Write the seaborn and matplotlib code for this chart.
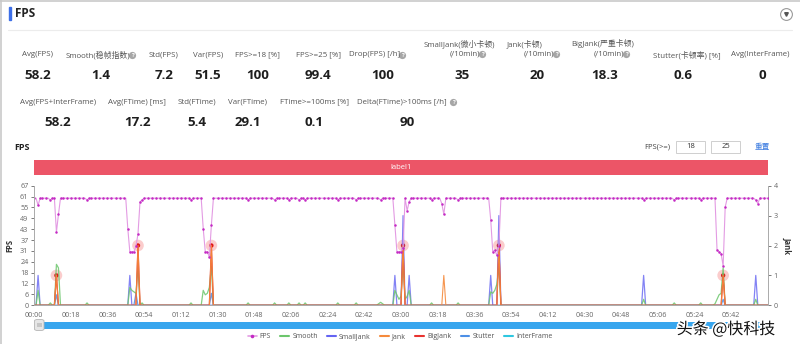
import matplotlib
matplotlib.use("Agg")
import matplotlib.pyplot as plt
import seaborn as sns
import pandas as pd
from matplotlib.lines import Line2D
from matplotlib.patches import Rectangle, FancyBboxPatch
import matplotlib.patheffects as pe

# ------------------------------------------------------------------ data
seconds = list(range(0, 361))

fps = [
    60, 60, 56, 60, 60, 60, 60, 60, 59, 60, 60, 41, 51, 60, 60, 60, 60, 60, 60, 60,
    60, 60, 60, 60, 60, 60, 59, 60, 60, 60, 60, 60, 60, 60, 60, 60, 60, 60, 60, 60,
    60, 60, 60, 60, 60, 60, 43, 30, 30, 30, 33, 40, 58, 59, 60, 60, 60, 60, 60, 60,
    60, 60, 60, 60, 60, 60, 60, 60, 60, 60, 60, 60, 60, 60, 60, 60, 60, 59, 60, 60,
    60, 60, 60, 43, 30, 30, 27, 45, 60, 60, 60, 60, 60, 60, 60, 60, 60, 60, 60, 60,
    60, 60, 60, 60, 60, 59, 60, 60, 60, 60, 60, 60, 60, 60, 60, 60, 60, 60, 59, 60,
    60, 60, 60, 60, 60, 59, 60, 60, 60, 60, 59, 60, 60, 59, 60, 60, 60, 60, 60, 60,
    60, 60, 60, 60, 60, 60, 60, 60, 60, 59, 60, 60, 60, 60, 60, 60, 60, 60, 59, 60,
    60, 60, 60, 60, 60, 60, 60, 60, 60, 60, 59, 60, 60, 60, 60, 60, 60, 45, 30, 30,
    30, 32, 60, 53, 58, 60, 60, 60, 60, 60, 60, 60, 60, 60, 60, 59, 60, 60, 60, 60,
    57, 51, 60, 60, 60, 60, 60, 60, 59, 60, 60, 60, 60, 60, 60, 60, 60, 60, 60, 60,
    60, 60, 60, 60, 48, 30, 31, 28, 33, 60, 60, 60, 60, 60, 60, 60, 60, 60, 60, 60,
    60, 60, 60, 60, 60, 60, 60, 60, 60, 60, 60, 60, 60, 60, 60, 60, 60, 60, 60, 60,
    60, 60, 60, 60, 60, 60, 60, 60, 60, 60, 60, 60, 60, 60, 60, 60, 60, 60, 60, 60,
    60, 60, 60, 60, 60, 60, 60, 60, 60, 60, 60, 60, 60, 60, 60, 60, 60, 60, 60, 59,
    60, 60, 60, 60, 60, 60, 60, 60, 60, 60, 60, 60, 60, 60, 59, 60, 60, 60, 60, 60,
    60, 60, 60, 60, 60, 60, 60, 59, 60, 60, 60, 60, 60, 60, 60, 31, 30, 29, 22, 55,
    60, 60, 60, 60, 60, 60, 60, 60, 60, 60, 60, 60, 60, 60, 59, 57, 60, 60, 60, 60,
    60,
]

# non-zero samples of the right-axis series (all other seconds are 0)
smooth_t = [2, 8, 11, 12, 26, 47, 48, 49, 50, 51, 53, 77, 83, 84, 85, 86, 87,
            105, 118, 125, 130, 133, 149, 158, 169, 170, 171,
            177, 178, 179, 180, 181, 182, 183, 184, 195, 208,
            224, 225, 226, 227, 228, 299, 314, 327, 334, 335, 336, 337, 338, 354]
smooth_v = [0.5, 0.08, 1.37, 1.25, 0.08, 0.6, 0.5, 0.45, 0.4, 1.3, 0.08, 0.08, 0.5, 0.35, 0.4, 0.6, 1.3,
            0.08, 0.08, 0.08, 0.08, 0.08, 0.08, 0.08, 0.05, 0.1, 0.05,
            0.5, 0.35, 0.2, 0.3, 1.4, 0.2, 0.3, 0.5, 0.08, 0.08,
            0.45, 0.4, 0.5, 0.7, 1.3, 0.2, 0.08, 0.08, 0.05, 0.2, 0.35, 0.4, 1.25, 0.2]
smalljank_t = [2, 47, 177, 181, 184, 224, 228, 299, 354]
smalljank_v = [1, 1, 1, 3, 1, 1, 3, 1, 1]
jank_t = [11, 51, 87, 181, 201, 228, 338]
jank_v = [1, 2, 2, 2, 1, 2, 1]
bigjank_t = [11, 51, 87, 181, 228, 338]
bigjank_v = [1, 2, 2, 2, 2, 1]
stutter_t = [11, 50, 87, 338]
stutter_v = [0.35, 0.4, 0.4, 0.2]
interframe_t = []
interframe_v = []

x_tick_seconds = [0, 18, 36, 54, 72, 90, 108, 126, 144, 162, 180, 198, 216, 234, 252, 270, 288, 306, 324, 342]
x_tick_labels = ["00:00", "00:18", "00:36", "00:54", "01:12", "01:30", "01:48", "02:06", "02:24", "02:42",
                 "03:00", "03:18", "03:36", "03:54", "04:12", "04:30", "04:48", "05:06", "05:24", "05:42"]
y_left_labels = ["0", "6", "12", "18", "24", "31", "37", "43", "49", "55", "61", "67"]
y_right_labels = ["0", "1", "2", "3", "4"]

stats_row1 = [
    ("Avg(FPS)", "58.2"), ("Smooth(稳帧指数)", "1.4"), ("Std(FPS)", "7.2"), ("Var(FPS)", "51.5"),
    ("FPS>=18 [%]", "100"), ("FPS>=25 [%]", "99.4"), ("Drop(FPS) [/h]", "100"),
    ("SmallJank(微小卡顿)\n(/10min)", "35"), ("Jank(卡顿)\n(/10min)", "20"),
    ("BigJank(严重卡顿)\n(/10min)", "18.3"), ("Stutter(卡顿率) [%]", "0.6"), ("Avg(InterFrame)", "0"),
]
stats_row2 = [
    ("Avg(FPS+InterFrame)", "58.2"), ("Avg(FTime) [ms]", "17.2"), ("Std(FTime)", "5.4"),
    ("Var(FTime)", "29.1"), ("FTime>=100ms [%]", "0.1"), ("Delta(FTime)>100ms [/h]", "90"),
]
legend_names = ["FPS", "Smooth", "SmallJank", "Jank", "BigJank", "Stutter", "InterFrame"]

# ------------------------------------------------------------------ build table
def full_series(ts, vs):
    lookup = dict(zip(ts, vs))
    return [lookup.get(s, 0) for s in seconds]

df = pd.DataFrame({
    "t": seconds,
    "FPS": fps,
    "Smooth": full_series(smooth_t, smooth_v),
    "SmallJank": full_series(smalljank_t, smalljank_v),
    "Jank": full_series(jank_t, jank_v),
    "BigJank": full_series(bigjank_t, bigjank_v),
    "Stutter": full_series(stutter_t, stutter_v),
    "InterFrame": full_series(interframe_t, interframe_v),
})

# ------------------------------------------------------------------ style
sns.set_theme(style="white")
plt.rcParams["font.family"] = ["Open Sans", "Noto Sans CJK SC", "DejaVu Sans"]

colors = {
    "FPS": "#c42ac4", "FPSline": "#e39be3", "Smooth": "#6cc66c", "SmallJank": "#6464f2",
    "Jank": "#f58a3c", "BigJank": "#e8332f", "Stutter": "#4d8fe6", "InterFrame": "#2ec7e0",
}

W, H = 800, 344
fig = plt.figure(figsize=(W / 100, H / 100), dpi=100)
fig.patch.set_facecolor("white")

def fx(x):
    return x / W

def fy(y):
    return 1 - y / H

# ------------------------------------------------------------------ header
fig.add_artist(Line2D([fx(0.5), fx(0.5)], [0, 1], color="#c9c9c9", lw=1.2))
fig.add_artist(Line2D([0, 1], [fy(0.5), fy(0.5)], color="#c9c9c9", lw=1.2))
fig.add_artist(Rectangle((fx(9), fy(19.5)), 2 / W, 12.5 / H, color="#3d6fe8", transform=fig.transFigure))
fig.text(fx(15), fy(13.5), "FPS", fontsize=8.5, fontweight="bold", color="#222", va="center", ha="left")
fig.add_artist(Line2D([fx(8), fx(792)], [fy(29.5), fy(29.5)], color="#ececec", lw=0.8))
fig.add_artist(Line2D([fx(786)], [fy(14)], marker="o", markersize=8.5, markerfacecolor="white",
                      markeredgecolor="#9a9a9a", markeredgewidth=0.8, transform=fig.transFigure))
fig.add_artist(Line2D([fx(786)], [fy(14)], marker="v", markersize=2.6, color="#555",
                      transform=fig.transFigure))

def qicon(x, y):
    fig.add_artist(Line2D([fx(x)], [fy(y)], marker="o", markersize=5.2, markerfacecolor="#a6a6a6",
                          markeredgewidth=0, transform=fig.transFigure))
    fig.text(fx(x), fy(y + 0.2), "?", fontsize=4.2, color="white", fontweight="bold",
             ha="center", va="center")

label_color = "#555555"
lab_fs = 5.7
val_fs = 9.6

# row 1: (label_x, value_x, icon_x or None)
row1_pos = [(37, 38, None), (97.5, 101, 132), (164, 164, None), (208, 208, None),
            (257, 258, None), (318, 318, None), (375, 383, 402),
            (459, 462, 482), (525, 537, 556), (603, 605, 626), (687, 683, None), (760, 762, None)]
for (lab, val), (lx, vx, ix) in zip(stats_row1, row1_pos):
    if "\n" in lab:
        l1, l2 = lab.split("\n")
        fig.text(fx(lx), fy(44), l1, fontsize=lab_fs, color=label_color, ha="center", va="center")
        fig.text(fx(ix - 17), fy(54), l2, fontsize=lab_fs, color=label_color, ha="center", va="center")
        qicon(ix, 54)
    else:
        fig.text(fx(lx), fy(55), lab, fontsize=lab_fs, color=label_color, ha="center", va="center")
        if ix is not None:
            qicon(ix, 55)
    fig.text(fx(vx), fy(75.5), val, fontsize=val_fs, fontweight="bold", color="#1e1e1e",
             ha="center", va="center")

row2_pos = [(58, 58, None), (137, 137, None), (197, 197, None), (248, 248, None),
            (314, 314, None), (402, 407, 453)]
for (lab, val), (lx, vx, ix) in zip(stats_row2, row2_pos):
    fig.text(fx(lx), fy(102), lab, fontsize=lab_fs, color=label_color, ha="center", va="center")
    if ix is not None:
        qicon(ix, 102)
    fig.text(fx(vx), fy(122.5), val, fontsize=val_fs, fontweight="bold", color="#1e1e1e",
             ha="center", va="center")

# ------------------------------------------------------------------ chart header
fig.text(fx(14), fy(148), "FPS", fontsize=6.5, fontweight="bold", color="#222", ha="left", va="center")
fig.text(fx(670), fy(147), "FPS(>=)", fontsize=5.5, color="#444", ha="right", va="center")
for bx, txt in [(676, "18"), (711, "25")]:
    fig.add_artist(Rectangle((fx(bx), fy(153)), 29 / W, 12 / H, facecolor="white",
                             edgecolor="#cfcfcf", lw=0.7, transform=fig.transFigure))
    fig.text(fx(bx + 14.5), fy(147), txt, fontsize=5.5, color="#333", ha="center", va="center")
fig.text(fx(762), fy(147), "重置", fontsize=5.5, color="#3b7be0", ha="center", va="center",
         family=["Noto Sans CJK SC", "DejaVu Sans"])
fig.add_artist(Rectangle((fx(34), fy(174.5)), (768 - 34) / W, 14.5 / H, facecolor="#ec5567",
                         edgecolor="none", transform=fig.transFigure))
fig.text(fx(401), fy(167.3), "label1", fontsize=5.5, color="white", ha="center", va="center")

# ------------------------------------------------------------------ plot
ax = fig.add_axes([fx(34), fy(305.3), (768 - 34) / W, (305.3 - 185.7) / H])
ax2 = ax.twinx()

lw = 0.9
sns.lineplot(data=df, x="t", y="InterFrame", ax=ax2, color=colors["InterFrame"], lw=lw, legend=False)
sns.lineplot(data=df, x="t", y="Stutter", ax=ax2, color=colors["Stutter"], lw=lw, alpha=0.85, legend=False)
sns.lineplot(data=df, x="t", y="SmallJank", ax=ax2, color=colors["SmallJank"], lw=lw, alpha=0.8, legend=False)
sns.lineplot(data=df, x="t", y="Smooth", ax=ax2, color=colors["Smooth"], lw=lw, alpha=0.85, legend=False)
sns.lineplot(data=df, x="t", y="BigJank", ax=ax2, color=colors["BigJank"], lw=lw, legend=False)
sns.lineplot(data=df, x="t", y="Jank", ax=ax2, color=colors["Jank"], lw=0.8, alpha=0.9, legend=False)

big = df[df["BigJank"] > 0]
sns.scatterplot(data=big, x="t", y="BigJank", ax=ax2, s=70, color="#f24848", alpha=0.28,
                edgecolor="none", legend=False)
sns.scatterplot(data=big, x="t", y="BigJank", ax=ax2, s=10, color="#e01818",
                edgecolor="none", legend=False)

# FPS on the left scale, drawn above the right-axis series
ax.set_zorder(3)
ax.patch.set_visible(False)
mark_idx = [i for i in range(len(fps)) if i % 2 == 0 or fps[i] != 60 or fps[i - 1] != 60]
sns.lineplot(data=df, x="t", y="FPS", ax=ax, color=colors["FPSline"], lw=0.8, legend=False,
             marker="o", markersize=1.8, markerfacecolor=colors["FPS"], markeredgewidth=0,
             markevery=mark_idx)

ax.set_xlim(0, 360)
ax.set_ylim(0, 67)
ax2.set_ylim(0, 4)
ax.set_yticks([i * 67 / 11 for i in range(12)])
ax.set_yticklabels(y_left_labels)
ax2.set_yticks(range(5))
ax2.set_yticklabels(y_right_labels)
ax.set_xticks(x_tick_seconds)
ax.set_xticklabels(x_tick_labels)
ax.set_xlabel("")
ax2.set_xlabel("")
ax.set_ylabel("FPS", fontsize=5.5, fontweight="bold", color="#333", labelpad=4)
ax2.set_ylabel("Jank", fontsize=5.5, fontweight="bold", color="#333", rotation=-90, labelpad=10)

for a in (ax, ax2):
    for sp in a.spines.values():
        sp.set_visible(False)
    a.grid(False)
ax.spines["left"].set_visible(True)
ax.spines["bottom"].set_visible(True)
ax2.spines["right"].set_visible(True)
for sp in (ax.spines["left"], ax.spines["bottom"], ax2.spines["right"]):
    sp.set_color("#aaaaaa")
    sp.set_linewidth(0.7)
ax.tick_params(axis="both", labelsize=5.2, colors="#666666", length=2.5, width=0.6, pad=1.5)
ax.tick_params(axis="x", pad=2.5)
ax2.tick_params(axis="y", labelsize=5.2, colors="#666666", length=2.5, width=0.6, pad=1.5)

# ------------------------------------------------------------------ slider + legend
fig.add_artist(Rectangle((fx(40), fy(329)), (768 - 40) / W, 7.5 / H, facecolor="#38a6ee",
                         edgecolor="none", transform=fig.transFigure))
fig.add_artist(FancyBboxPatch((fx(34.5), fy(330.5)), 9.5 / W, 11 / H,
                              boxstyle="round,pad=0,rounding_size=0.004", facecolor="#e6e6e6",
                              edgecolor="#b5b5b5", lw=0.6, transform=fig.transFigure))
fig.add_artist(Rectangle((fx(37), fy(327)), 4.5 / W, 4 / H, facecolor="#c6c6c6",
                         edgecolor="none", transform=fig.transFigure))

handles = [Line2D([], [], color=colors["FPSline"], lw=1.2, marker="o", markersize=2.6,
                  markerfacecolor=colors["FPS"], markeredgewidth=0)]
for name in legend_names[1:]:
    handles.append(Line2D([], [], color=colors[name], lw=1.5))
fig.legend(handles, legend_names, loc="center", bbox_to_anchor=(fx(400), fy(336.5)), ncol=7,
           frameon=False, fontsize=5.0, handlelength=1.25, handletextpad=0.45, columnspacing=1.35,
           labelcolor="#555555")

fig.text(fx(726), fy(329.5), "头条 @快科技", fontsize=11.5, color="#111111", ha="center", va="center",
         family=["Noto Sans CJK SC", "DejaVu Sans"],
         path_effects=[pe.withStroke(linewidth=2.2, foreground="white")])

fig.savefig("out.png", dpi=100, facecolor="white")
